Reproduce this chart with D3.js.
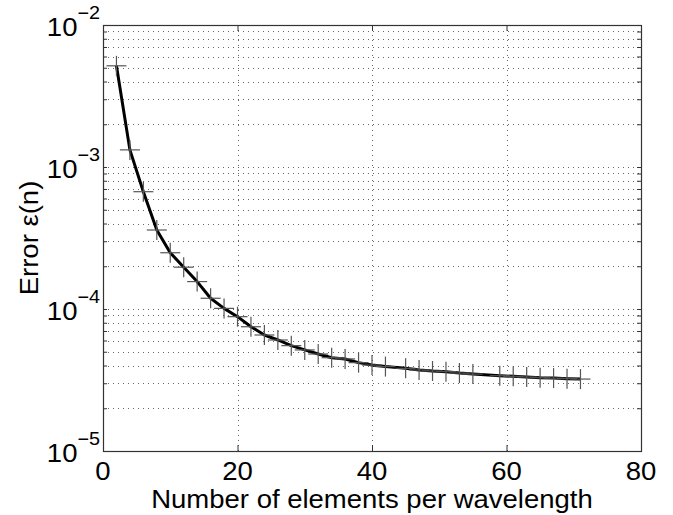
<!DOCTYPE html>
<html><head><meta charset="utf-8">
<script src="https://cdn.jsdelivr.net/npm/d3@7"></script>
<style>body{margin:0;background:#fff}svg{display:block}</style>
</head><body>
<svg id="c" width="673" height="515"></svg>
<script>
const nElements = [2,4,6,8,10,12,14,16,18,20,22,24,26,28,30,32,34,36,38,40,42,45,47,49,51,53,55,59,61,63,65,67,69,71];
const errorValues = [5.16e-3,1.32e-3,6.70e-4,3.60e-4,2.49e-4,1.97e-4,1.56e-4,1.19e-4,1.01e-4,8.83e-5,7.50e-5,6.56e-5,6.05e-5,5.52e-5,5.15e-5,4.82e-5,4.54e-5,4.45e-5,4.19e-5,4.03e-5,3.93e-5,3.82e-5,3.72e-5,3.66e-5,3.62e-5,3.54e-5,3.48e-5,3.39e-5,3.36e-5,3.32e-5,3.28e-5,3.26e-5,3.23e-5,3.21e-5];
const xTicks = [0,20,40,60,80];
const yDecades = [-5,-4,-3,-2];
const xLabel = "Number of elements per wavelength";
const yLabel = "Error ε(n)";

const svg = d3.select("#c");
const L=103, R=641, T=25, B=451;
const x = d3.scaleLinear().domain([0,80]).range([L,R]);
const y = d3.scaleLog().domain([1e-5,1e-2]).range([B,T]);
const font = "Liberation Sans, Arial, Helvetica, sans-serif";
const SX = 1.1;

const minor = [];
yDecades.slice(0,3).forEach(d=>{for(let k=2;k<=9;k++) minor.push(k*Math.pow(10,d));});
const allY = minor.concat(yDecades.map(d=>Math.pow(10,d)));

// grid
const g = svg.append("g");
g.selectAll(".gy").data(allY.filter(v=>v>1e-5*1.01 && v<1e-2*0.99)).enter().append("line")
  .attr("x1",L).attr("x2",R).attr("y1",d=>Math.round(y(d))+0.5).attr("y2",d=>Math.round(y(d))+0.5)
  .attr("stroke","#666").attr("stroke-width",1).attr("stroke-dasharray","1,4");
g.selectAll(".gx").data(xTicks.filter(v=>v>0&&v<80)).enter().append("line")
  .attr("y1",T).attr("y2",B).attr("x1",d=>Math.round(x(d))+0.5).attr("x2",d=>Math.round(x(d))+0.5)
  .attr("stroke","#666").attr("stroke-width",1).attr("stroke-dasharray","1,4");

// axes ticks
svg.append("g").attr("transform",`translate(0,${B})`).call(d3.axisBottom(x).tickValues(xTicks).tickSize(-6).tickFormat(""));
svg.append("g").attr("transform",`translate(0,${T})`).call(d3.axisTop(x).tickValues(xTicks).tickSize(-6).tickFormat(""));
svg.append("g").attr("transform",`translate(${L},0)`).call(d3.axisLeft(y).tickValues(allY).tickSize(-4).tickFormat(""));
svg.append("g").attr("transform",`translate(${R},0)`).call(d3.axisRight(y).tickValues(allY).tickSize(-4).tickFormat(""));
svg.selectAll(".domain").remove();
svg.selectAll(".tick line").attr("stroke","#333");
svg.append("rect").attr("x",L+0.5).attr("y",T+0.5).attr("width",R-L).attr("height",B-T)
  .attr("fill","none").attr("stroke","#333").attr("stroke-width",1.2);

function txt(px,py,anchor){
  return svg.append("g").attr("transform",`translate(${px},${py}) scale(${SX},1)`)
    .append("text").attr("text-anchor",anchor).attr("font-family",font).attr("fill","#000");
}
// x tick labels
xTicks.forEach(v=>{ txt(x(v),480,"middle").attr("font-size",25).text(v); });
// y tick labels
yDecades.forEach(d=>{
  const t = txt(L-3,y(Math.pow(10,d))+11,"end");
  t.append("tspan").attr("font-size",25).text("10");
  t.append("tspan").attr("font-size",18).attr("dy",-17).text("−"+(-d));
});
// axis labels
txt((L+R)/2,508,"middle").attr("font-size",25).text(xLabel);
svg.append("g").attr("transform",`translate(38,${(T+B)/2}) rotate(-90) scale(${SX},1)`)
  .append("text").attr("text-anchor","middle").attr("font-family",font).attr("font-size",25).attr("fill","#000").text(yLabel);

// data
const pts = nElements.map((n,i)=>[n,errorValues[i]]);
svg.append("path").datum(pts)
  .attr("d",d3.line().x(d=>x(d[0])).y(d=>y(d[1])))
  .attr("fill","none").attr("stroke","#000").attr("stroke-width",3).attr("stroke-linejoin","round");
const m = svg.selectAll(".m").data(pts).enter().append("g")
  .attr("transform",d=>`translate(${x(d[0])},${y(d[1])})`);
m.append("line").attr("x1",-10).attr("x2",10).attr("stroke","#555").attr("stroke-width",1.2);
m.append("line").attr("y1",-10).attr("y2",10).attr("stroke","#555").attr("stroke-width",1.2);
</script>
</body></html>
